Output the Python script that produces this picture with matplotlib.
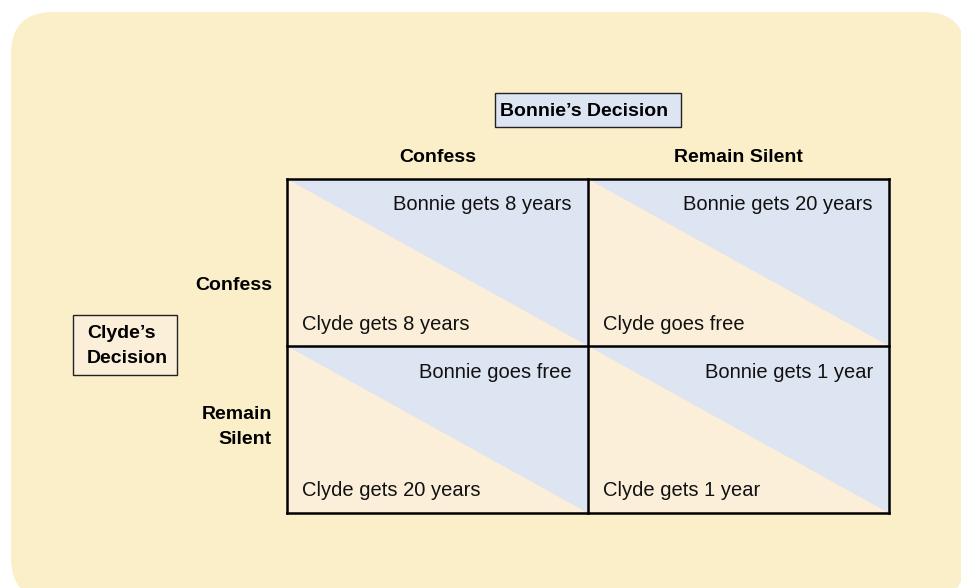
import matplotlib.pyplot as plt
from matplotlib.patches import FancyBboxPatch, Polygon, Rectangle

# payoff matrix text
col_labels = ["Confess", "Remain Silent"]
row_labels = ["Confess", "Remain\nSilent"]
bonnie_text = [["Bonnie gets 8 years", "Bonnie gets 20 years"],
               ["Bonnie goes free", "Bonnie gets 1 year"]]
clyde_text = [["Clyde gets 8 years", "Clyde goes free"],
              ["Clyde gets 20 years", "Clyde gets 1 year"]]
col_title = "Bonnie\u2019s Decision"
row_title = "Clyde\u2019s\nDecision"

bg = "#FBEFC9"
blue = "#DDE4F2"
peach = "#FCEFDA"

plt.rcParams["font.family"] = ["Liberation Sans", "DejaVu Sans"]

fig = plt.figure(figsize=(9.62, 5.88), dpi=100)
ax = fig.add_axes([0, 0, 1, 1])
ax.set_xlim(0, 962)
ax.set_ylim(588, 0)
ax.axis("off")

ax.add_patch(FancyBboxPatch((11 + 42, 12 + 42), 966 - 11 - 84, 600 - 12 - 84,
                            boxstyle="round,pad=42", fc=bg, ec="none"))

x0, y0 = 287, 179
cw, ch = 301, 167

for r in range(2):
    for c in range(2):
        left = x0 + c * cw
        top = y0 + r * ch
        ax.add_patch(Polygon([(left, top), (left, top + ch), (left + cw, top + ch)],
                             closed=True, fc=peach, ec="none"))
        ax.add_patch(Polygon([(left, top), (left + cw, top), (left + cw, top + ch)],
                             closed=True, fc=blue, ec="none"))
        ax.text(left + cw - 16, top + 26, bonnie_text[r][c], ha="right", va="center",
                fontsize=14.5, color="#111111")
        ax.text(left + 15, top + 145, clyde_text[r][c], ha="left", va="center",
                fontsize=14.5, color="#111111")

for i in range(3):
    ax.plot([x0 + i * cw, x0 + i * cw], [y0, y0 + 2 * ch], color="black", lw=1.8,
            solid_capstyle="projecting")
    ax.plot([x0, x0 + 2 * cw], [y0 + i * ch, y0 + i * ch], color="black", lw=1.8,
            solid_capstyle="projecting")

# column headers
for c, lab in enumerate(col_labels):
    ax.text(x0 + c * cw + cw / 2, 158, lab, ha="center", va="center",
            fontsize=14, fontweight="bold")

# row headers
row_y = [285, 427]
for r, lab in enumerate(row_labels):
    ax.text(272, row_y[r], lab, ha="right", va="center", fontsize=14,
            fontweight="bold", linespacing=1.55)

ax.add_patch(Rectangle((495, 93), 186, 34, fc=blue, ec="#222222", lw=1))
ax.text(500, 111, col_title, ha="left", va="center", fontsize=14, fontweight="bold")

ax.add_patch(Rectangle((73, 315), 104, 60, fc=peach, ec="#222222", lw=1))
ax.text(87, 346, row_title, ha="left", va="center", fontsize=14, fontweight="bold",
        linespacing=1.6)

fig.savefig("out.png", dpi=100)
